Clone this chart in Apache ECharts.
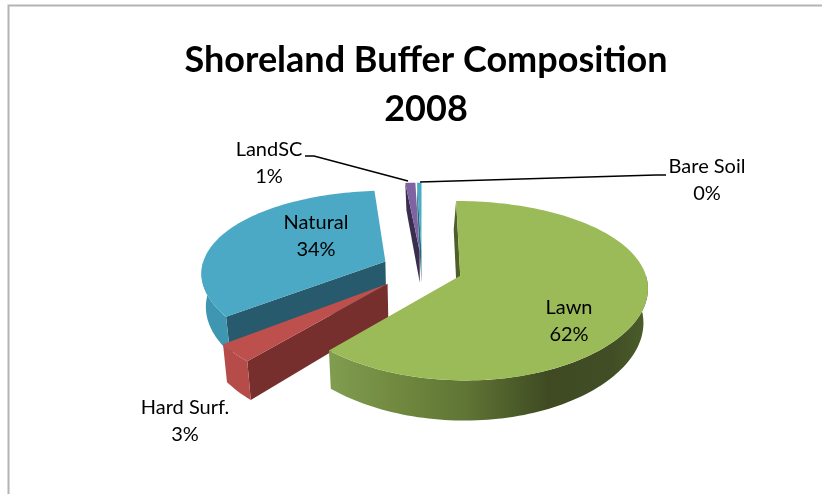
<!DOCTYPE html>
<html>
<head>
<meta charset="utf-8">
<style>
  html, body { margin: 0; padding: 0; background: #fff; }
  #chart { width: 822px; height: 494px; }
</style>
<script src="https://cdn.jsdelivr.net/npm/echarts@6/dist/echarts.min.js"></script>
</head>
<body>
<div id="chart"></div>
<script>
  // data, clockwise from 12 o'clock
  const names = ["Lawn", "Hard Surf.", "Natural", "LandSC", "Bare Soil"];
  const values = [61.5, 3.2, 33.85, 1.0, 0.45];

  // painted back to front
  const drawOrder = [2, 3, 4, 1, 0];

  const topColors = ["#9bbb59", "#bd4f4c", "#4ba9c5", "#8064a2", "#4bacc6"];
  const faceColors = ["#4f5f28", "#772f2e", "#265a6c", "#3b2d4f", "#2a6a7e"];
  const labelPos = [[569, 321], [185, 421], [316, 236], [269, 163], [707, 180]];
  const explode = [0.22, 0.25, 0.22, 0.22, 0.22];
  const faceShrink = [0.07, 0.02, 0.02, 0.07, 0.07];
  const leaders = [
    null,
    null,
    null,
    [[305, 156], [314, 156], [408, 181]],
    [[420, 182], [656, 175], [666, 175]]
  ];

  // fake 3d projection of the pie
  const cx = 422, cy = 269, rx = 184, ry = 85;
  const persp = 0.165, perspX = 0.12, depth = 33, rimShrink = 0.02;
  const total = values.reduce((a, b) => a + b, 0);

  function project(u, v, low, shrink) {
    let x = rx * u / (1 + perspX * v);
    const s = 1 / (1 + persp * v);
    const y = cy - ry * v * s + (low ? depth * s : 0);
    if (low) x = x * (1 - shrink);
    return [cx + x, y];
  }

  function slicePoints(a0, a1, ox, oy, low) {
    const pts = [];
    const n = Math.max(2, Math.ceil((a1 - a0) / (Math.PI / 120)));
    for (let i = 0; i <= n; i++) {
      const a = a0 + (a1 - a0) * i / n;
      pts.push(project(ox + Math.sin(a), oy + Math.cos(a), low, rimShrink));
    }
    return pts;
  }

  function rimFill(i) {
    if (i === 0) {
      return new echarts.graphic.LinearGradient(333, 0, 650, 0, [
        { offset: 0, color: "#7f9c4f" },
        { offset: 0.2, color: "#71893f" },
        { offset: 0.42, color: "#5f7535" },
        { offset: 0.68, color: "#3f4a22" },
        { offset: 0.88, color: "#414e25" },
        { offset: 1, color: "#4d5e2a" }
      ], true);
    }
    if (i === 1) return "#b54c49";
    return "#3f96b0";
  }

  function renderSlice(params, api) {
    const idx = api.value(0);
    let start = 0;
    for (let k = 0; k < idx; k++) start += values[k];
    const a0 = start / total * Math.PI * 2;
    const a1 = (start + values[idx]) / total * Math.PI * 2;
    const mid = (a0 + a1) / 2;
    const ox = explode[idx] * Math.sin(mid), oy = explode[idx] * Math.cos(mid);
    const fs = faceShrink[idx];
    const children = [];

    // cut face on the start side of the slice
    children.push({
      type: "polygon",
      shape: { points: [
        project(ox + Math.sin(a0), oy + Math.cos(a0), false, fs),
        project(ox, oy, false, fs),
        project(ox, oy, true, fs),
        project(ox + Math.sin(a0), oy + Math.cos(a0), true, fs)
      ] },
      style: { fill: faceColors[idx] }
    });

    // outer rim, only the part turned to the viewer
    const r0 = Math.max(a0, Math.PI / 2), r1 = Math.min(a1, Math.PI * 1.5);
    if (r1 > r0) {
      const upper = slicePoints(r0, r1, ox, oy, false);
      const lower = slicePoints(r0, r1, ox, oy, true).reverse();
      children.push({
        type: "polygon",
        shape: { points: upper.concat(lower) },
        style: { fill: rimFill(idx) }
      });
    }

    // top surface
    children.push({
      type: "polygon",
      shape: { points: [project(ox, oy, false, fs)].concat(slicePoints(a0, a1, ox, oy, false)) },
      style: { fill: topColors[idx] }
    });

    if (leaders[idx]) {
      children.push({
        type: "polyline",
        shape: { points: leaders[idx] },
        style: { stroke: "#000", lineWidth: 1.5, fill: null },
        z2: 10
      });
    }

    children.push({
      type: "text",
      style: {
        text: names[idx] + "\n" + Math.round(values[idx]) + "%",
        x: labelPos[idx][0],
        y: labelPos[idx][1],
        align: "center",
        verticalAlign: "middle",
        fontFamily: "Lato",
        fontSize: 20,
        lineHeight: 27,
        fill: "#000"
      },
      z2: 20
    });

    return { type: "group", children: children };
  }

  const chart = echarts.init(document.getElementById("chart"), null, { renderer: "canvas" });
  chart.setOption({
    animation: false,
    backgroundColor: "#fff",
    title: {
      text: "Shoreland Buffer Composition\n2008",
      left: 421,
      top: 31,
      textAlign: "center",
      textStyle: {
        fontFamily: "Lato",
        fontWeight: "bold",
        fontSize: 36,
        lineHeight: 49,
        color: "#000"
      }
    },
    graphic: [{
      type: "rect",
      shape: { x: 8.5, y: 5.5, width: 900, height: 600 },
      style: { fill: null, stroke: "#b4b4b4", lineWidth: 2 },
      silent: true
    }],
    series: [{
      type: "custom",
      coordinateSystem: "none",
      renderItem: renderSlice,
      data: drawOrder.map(i => [i])
    }]
  });
</script>
</body>
</html>
